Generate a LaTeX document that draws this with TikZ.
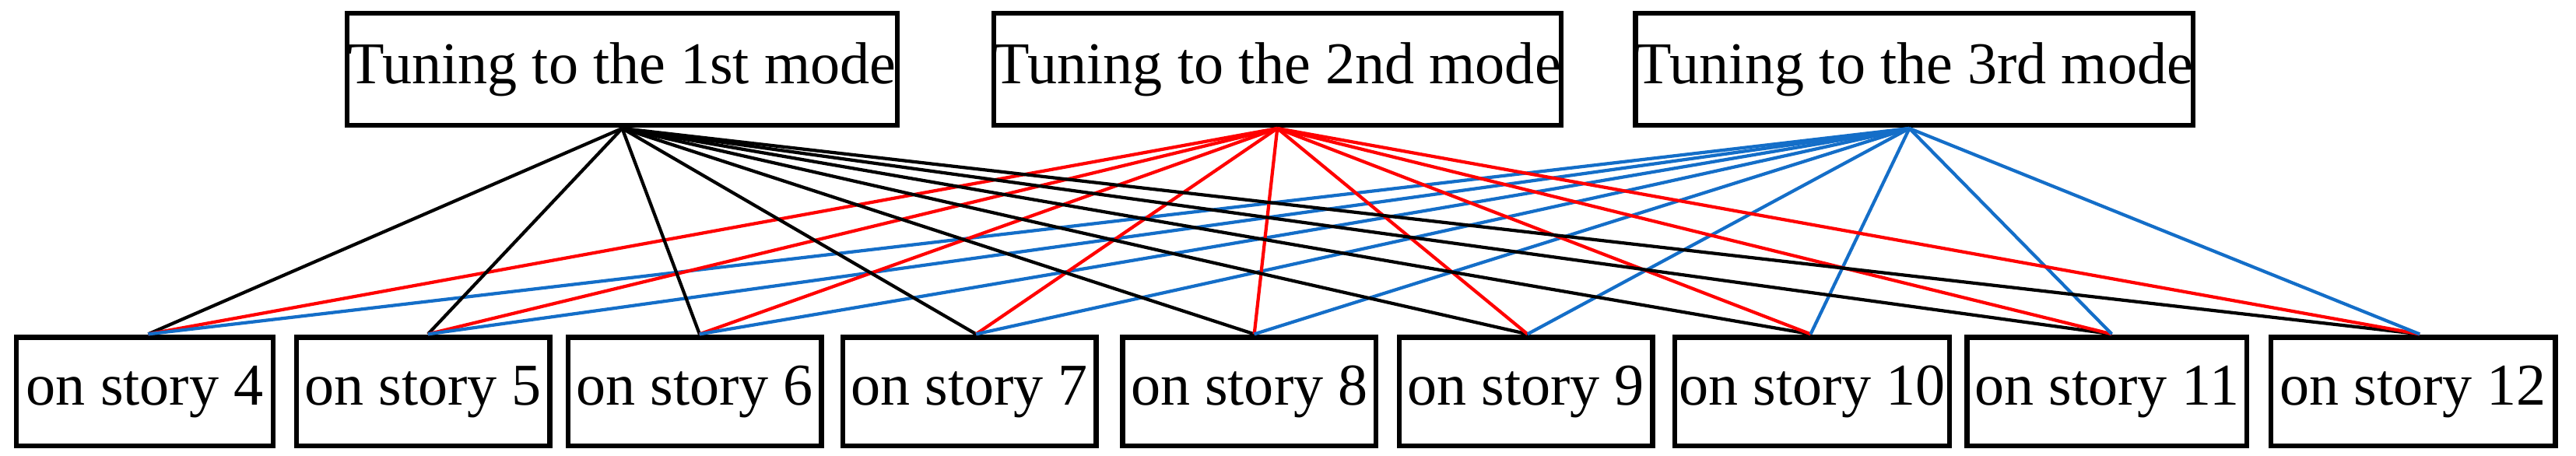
\documentclass[tikz,border=0pt]{standalone}
\usepackage{fontspec}
\setmainfont{Liberation Serif}
\begin{document}
\begin{tikzpicture}[x=1pt,y=-1pt,
  box/.style={draw,line width=3pt,inner sep=0pt,font=\fontsize{36}{36}\selectfont},
  c1/.style={black,line width=2pt},
  c2/.style={red,line width=2pt},
  c3/.style={color={rgb,255:red,20;green,110;blue,200},line width=2pt}]
\useasboundingbox (0,0) rectangle (1565,277);
\node[box,minimum width=334,minimum height=68] (t1) at (378,42) {Tuning to the 1st mode};
\node[box,minimum width=334,minimum height=68] (t2) at (776,42) {Tuning to the 2nd mode};
\node[box,minimum width=338,minimum height=68] (t3) at (1163,42) {Tuning to the 3rd mode};
\foreach \n/\cx/\w/\px in {4/88/156/90,5/257/154/260,6/422/154/425,7/589/154/593,8/759/154/762,9/927/154/928,10/1101/167/1100,11/1280/170/1283,12/1466/173/1470}{
  \node[box,minimum width=\w,minimum height=66] (b\n) at (\cx,238) {on story \n};
  \coordinate (p\n) at (\px,203);
}
\coordinate (a1) at (378,78);
\coordinate (a2) at (776,78);
\coordinate (a3) at (1160,78);
\foreach \n in {4,...,12}{
  \draw[c1] (a1) -- (p\n);
  \draw[c2] (a2) -- (p\n);
  \draw[c3] (a3) -- (p\n);
}
\end{tikzpicture}
\end{document}
